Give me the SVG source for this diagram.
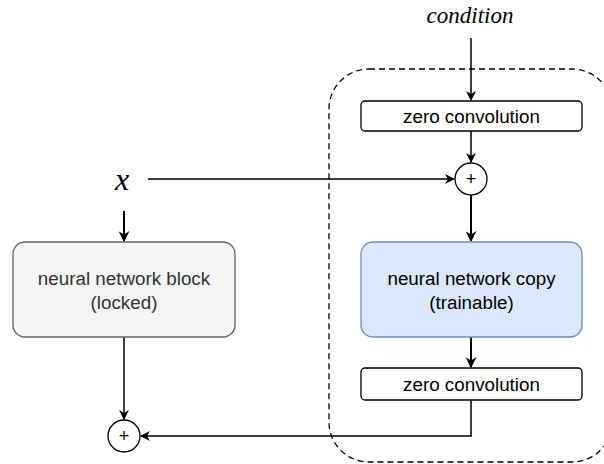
<svg xmlns="http://www.w3.org/2000/svg" width="604" height="464" viewBox="0 0 604 464">
  <defs>
    <marker id="arrow" viewBox="0 0 10 10" refX="9" refY="5" markerWidth="10" markerHeight="10" markerUnits="userSpaceOnUse" orient="auto">
      <path d="M0,0 L10,5 L0,10 L3,5 Z" fill="#000"/>
    </marker>
    <marker id="arrowBig" viewBox="0 0 10 10" refX="9" refY="5" markerWidth="11" markerHeight="11" markerUnits="userSpaceOnUse" orient="auto">
      <path d="M0,0 L10,5 L0,10 L3,5 Z" fill="#000"/>
    </marker>
  </defs>
  <style>
    .label { font-family: "Liberation Sans", Arial, sans-serif; font-size: 18.8px; text-anchor: middle; fill: #000; }
    .math { font-family: "Liberation Serif", "Times New Roman", serif; font-style: italic; text-anchor: middle; fill: #000; }
    .plus { font-family: "Liberation Sans", Arial, sans-serif; font-size: 18px; text-anchor: middle; fill: #000; }
    .box { fill: #fff; stroke: #000; stroke-width: 1.3; }
    .sum { fill: #fff; stroke: #000; stroke-width: 1.3; }
    .edge { fill: none; stroke: #000; stroke-width: 1.5; }
    .edge-bold { fill: none; stroke: #000; stroke-width: 2; }
  </style>

  <rect width="604" height="464" fill="#fff"/>

  <!-- trainable branch enclosure (runs past the right edge) -->
  <g id="trainable-group">
    <rect x="329" y="69" width="283" height="393" rx="40" ry="40" fill="none" stroke="#000" stroke-width="1.3" stroke-dasharray="6 4"/>
  </g>

  <!-- connectors -->
  <g id="connectors">
    <path class="edge" d="M471,38 L471,100" marker-end="url(#arrow)"/>
    <path class="edge" d="M471,131 L471,162" marker-end="url(#arrow)"/>
    <path class="edge" d="M148,179 L454,179" marker-end="url(#arrow)"/>
    <path class="edge-bold" d="M471,195 L471,241" marker-end="url(#arrowBig)"/>
    <path class="edge-bold" d="M471,337 L471,367" marker-end="url(#arrowBig)"/>
    <path class="edge-bold" d="M124,211 L124,241" marker-end="url(#arrowBig)"/>
    <path class="edge" d="M124,337 L124,419" marker-end="url(#arrow)"/>
    <path class="edge" d="M471,400 L471,436 L141,436" marker-end="url(#arrow)"/>
  </g>

  <g id="condition-label">
    <text class="math" x="470" y="23" font-size="23">condition</text>
  </g>

  <g id="x-label">
    <text class="math" x="122" y="190" font-size="32">x</text>
  </g>

  <g id="zero-conv-in">
    <rect class="box" x="361" y="101" width="221" height="30" rx="4" ry="4"/>
    <text class="label" x="471.5" y="122.5">zero convolution</text>
  </g>

  <g id="sum-top">
    <circle class="sum" cx="471" cy="179" r="16"/>
    <text class="plus" x="471" y="185">+</text>
  </g>

  <g id="nn-copy">
    <rect x="361" y="242" width="221" height="95" rx="12" ry="12" fill="#dae8fc" stroke="#6c8ebf" stroke-width="1.3"/>
    <text class="label" x="471.5" y="285">neural network copy</text>
    <text class="label" x="471.5" y="309">(trainable)</text>
  </g>

  <g id="zero-conv-out">
    <rect class="box" x="361" y="368" width="221" height="32" rx="4" ry="4"/>
    <text class="label" x="471.5" y="390.5">zero convolution</text>
  </g>

  <g id="nn-locked">
    <rect x="13" y="242" width="222" height="95" rx="12" ry="12" fill="#f5f5f5" stroke="#666666" stroke-width="1.3"/>
    <text class="label" x="124" y="285" style="fill:#333333">neural network block</text>
    <text class="label" x="124" y="309" style="fill:#333333">(locked)</text>
  </g>

  <g id="sum-bottom">
    <circle class="sum" cx="124" cy="436" r="16"/>
    <text class="plus" x="124" y="442">+</text>
  </g>
</svg>
